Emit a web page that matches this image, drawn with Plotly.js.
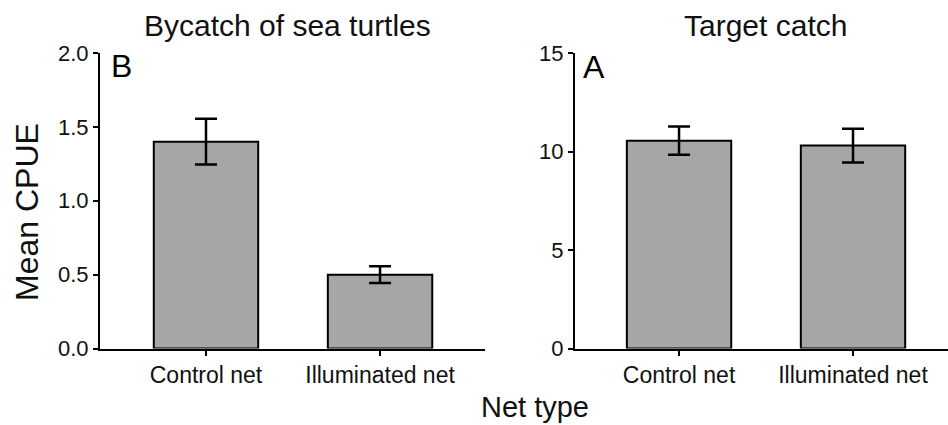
<!DOCTYPE html>
<html>
<head>
<meta charset="utf-8">
<script src="https://cdn.plot.ly/plotly-3.0.1.min.js"></script>
<style>html,body{margin:0;padding:0;background:#fff;}#chart{width:948px;height:425px;}</style>
</head>
<body>
<div id="chart"></div>
<script>
const categories = ["Control net", "Illuminated net"];
const bycatchMeans = [1.40, 0.50];
const bycatchErrors = [0.155, 0.057];
const targetMeans = [10.55, 10.30];
const targetErrors = [0.72, 0.86];
const bycatchTicks = [0, 0.5, 1.0, 1.5, 2.0];
const targetTicks = [0, 5, 10, 15];

const FONT = "Liberation Sans, Arial, Helvetica, sans-serif";
const barColor = "#a6a6a6";

const traces = [
  {
    type: "bar", x: categories, y: bycatchMeans, xaxis: "x", yaxis: "y",
    width: 0.6,
    marker: {color: barColor, line: {color: "#000", width: 2}},
    error_y: {type: "data", array: bycatchErrors, visible: true, color: "#000", thickness: 2.5, width: 11},
    hoverinfo: "skip", showlegend: false
  },
  {
    type: "bar", x: categories, y: targetMeans, xaxis: "x2", yaxis: "y2",
    width: 0.6,
    marker: {color: barColor, line: {color: "#000", width: 2}},
    error_y: {type: "data", array: targetErrors, visible: true, color: "#000", thickness: 2.5, width: 11},
    hoverinfo: "skip", showlegend: false
  }
];

const W = 948, H = 425;
const yDom = [(H - 348.5) / H, (H - 53) / H];

const xCommon = {
  type: "category", showline: true, linecolor: "#000", linewidth: 2,
  ticks: "outside", ticklen: 5, tickwidth: 2, tickcolor: "#000",
  showgrid: false, zeroline: false, fixedrange: true,
  tickfont: {family: FONT, size: 23, color: "#111"}
};
const yCommon = {
  showline: true, linecolor: "#000", linewidth: 2,
  ticks: "outside", ticklen: 5, tickwidth: 2, tickcolor: "#000",
  showgrid: false, zeroline: false, fixedrange: true,
  tickfont: {family: FONT, size: 22, color: "#111"},
  domain: yDom
};

const layout = {
  width: W, height: H,
  margin: {l: 0, r: 0, t: 0, b: 0, pad: 0},
  paper_bgcolor: "#fff", plot_bgcolor: "#fff",
  bargap: 0.4,
  xaxis: Object.assign({}, xCommon, {domain: [100 / W, 485 / W], range: [-0.609, 1.603], anchor: "y"}),
  yaxis: Object.assign({}, yCommon, {range: [0, 2], tickvals: bycatchTicks, tickformat: ".1f", anchor: "x"}),
  xaxis2: Object.assign({}, xCommon, {domain: [575 / W, 1], range: [-0.598, 1.546], anchor: "y2"}),
  yaxis2: Object.assign({}, yCommon, {range: [0, 15], tickvals: targetTicks, anchor: "x2"}),
  annotations: [
    {text: "Bycatch of sea turtles", x: 287 / W, y: 1 - 25 / H, xref: "paper", yref: "paper",
     showarrow: false, xanchor: "center", yanchor: "middle", font: {family: FONT, size: 30, color: "#111"}},
    {text: "Target catch", x: 765 / W, y: 1 - 25 / H, xref: "paper", yref: "paper",
     showarrow: false, xanchor: "center", yanchor: "middle", font: {family: FONT, size: 30, color: "#111"}},
    {text: "B", x: 109 / W, y: 1 - 66 / H, xref: "paper", yref: "paper",
     showarrow: false, xanchor: "left", yanchor: "middle", font: {family: FONT, size: 32, color: "#000"}},
    {text: "A", x: 581 / W, y: 1 - 67 / H, xref: "paper", yref: "paper",
     showarrow: false, xanchor: "left", yanchor: "middle", font: {family: FONT, size: 32, color: "#000"}},
    {text: "Mean CPUE", x: 27 / W, y: 1 - 212 / H, xref: "paper", yref: "paper", textangle: -90,
     showarrow: false, xanchor: "center", yanchor: "middle", font: {family: FONT, size: 32, color: "#111"}},
    {text: "Net type", x: 535 / W, y: 1 - 407 / H, xref: "paper", yref: "paper",
     showarrow: false, xanchor: "center", yanchor: "middle", font: {family: FONT, size: 29, color: "#111"}}
  ]
};

Plotly.newPlot("chart", traces, layout, {displayModeBar: false, staticPlot: true});
</script>
</body>
</html>
